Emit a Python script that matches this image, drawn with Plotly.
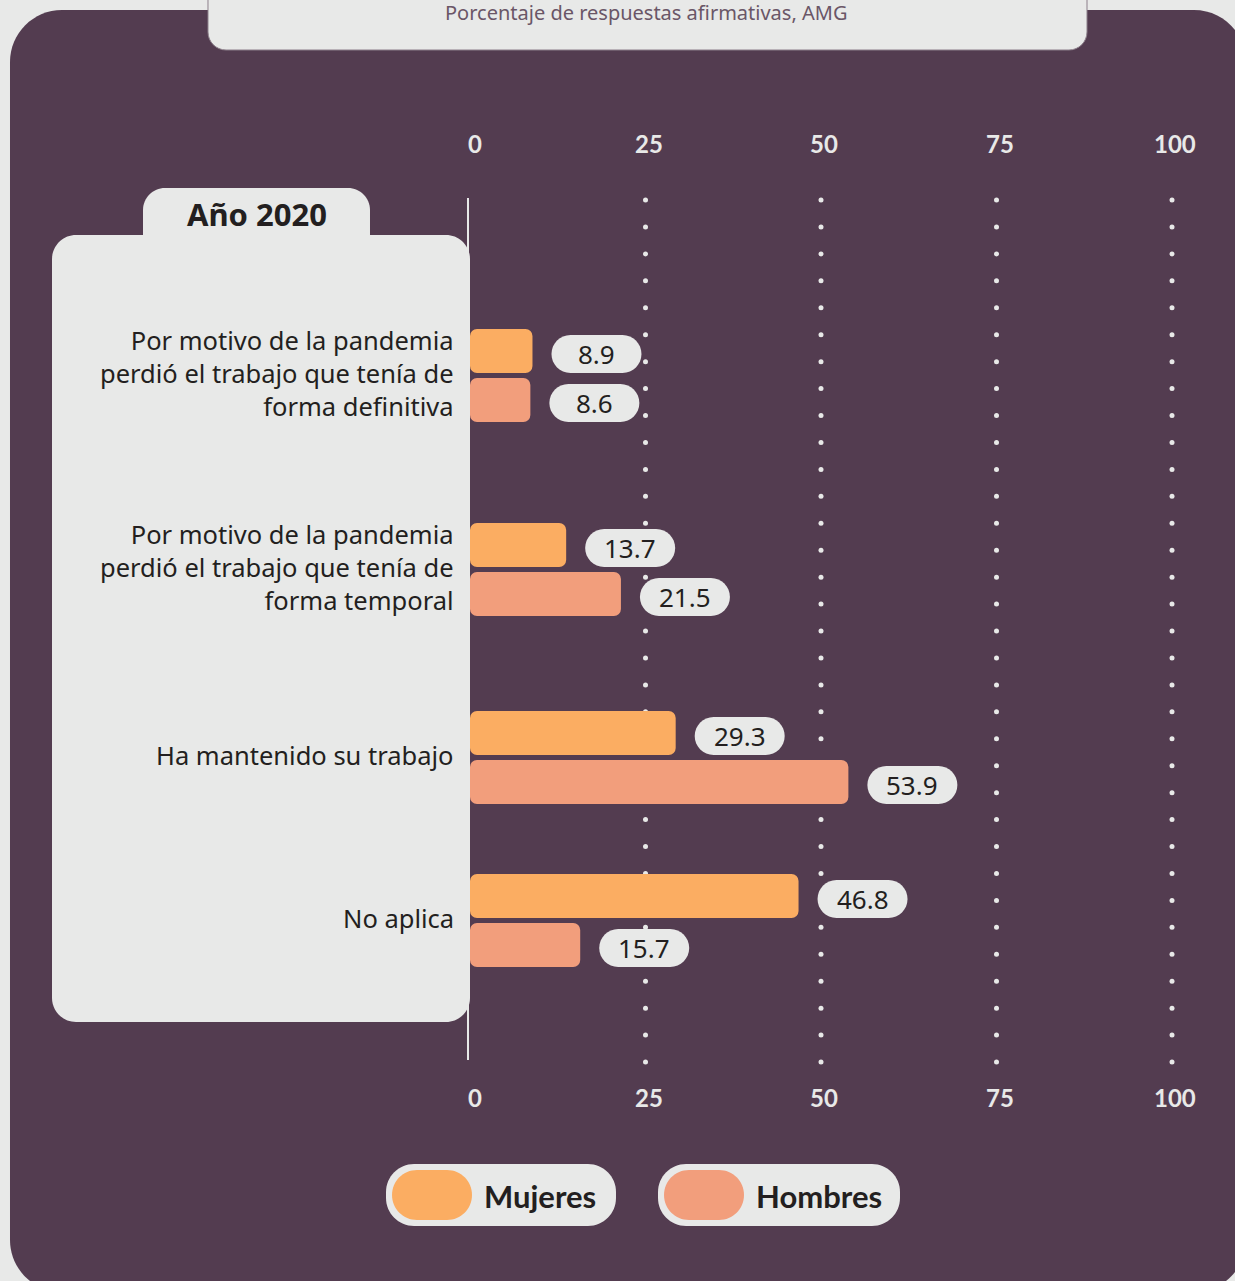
import numpy as np
import plotly.graph_objects as go

# ---- data -------------------------------------------------------------
categories = [
    "Por motivo de la pandemia<br>perdió el trabajo que tenía de<br>forma definitiva",
    "Por motivo de la pandemia<br>perdió el trabajo que tenía de<br>forma temporal",
    "Ha mantenido su trabajo",
    "No aplica",
]
mujeres = [8.9, 13.7, 29.3, 46.8]
hombres = [8.6, 21.5, 53.9, 15.7]
tick_values = [0, 25, 50, 75, 100]
series_names = ["Mujeres", "Hombres"]
subtitle = "Porcentaje de respuestas afirmativas, AMG"
panel_title = "Año 2020"

# ---- layout constants (pixels) ---------------------------------------
W, H = 1235, 1281
X0_PX = 470          # pixel position of value 0
PX_PER_UNIT = 7.02   # horizontal scale
row_centres = [375.5, 569.5, 757.5, 920.5]
BAR_H = 44
PAIR_OFFSET = 24.5

PURPLE = "#533c50"
LIGHT = "#e8e9e8"
DARK = "#231f20"
C_MUJ = "#fbad62"
C_HOM = "#f29e7c"
FONT = "Noto Sans"
NUM_FONT = "Lato"

x_range = [-X0_PX / PX_PER_UNIT, (W - X0_PX) / PX_PER_UNIT]


def px(x):
    return x / W


def py(y):
    return 1 - y / H


def rounded_path(x0, y0, x1, y1, r, corners=(1, 1, 1, 1), to_paper=True):
    """Rounded rectangle path; corners = (top-left, top-right, bottom-right, bottom-left)."""
    k = 0.5523
    tl, tr, br, bl = [r if c else 0 for c in corners]
    if to_paper:
        fx, fy = px, py
    else:
        fx, fy = (lambda v: v), (lambda v: v)
    P = lambda x, y: f"{fx(x):.6f},{fy(y):.6f}"
    d = f"M {P(x0 + tl, y0)} L {P(x1 - tr, y0)} "
    if tr:
        d += f"C {P(x1 - tr + k * tr, y0)} {P(x1, y0 + tr - k * tr)} {P(x1, y0 + tr)} "
    d += f"L {P(x1, y1 - br)} "
    if br:
        d += f"C {P(x1, y1 - br + k * br)} {P(x1 - br + k * br, y1)} {P(x1 - br, y1)} "
    d += f"L {P(x0 + bl, y1)} "
    if bl:
        d += f"C {P(x0 + bl - k * bl, y1)} {P(x0, y1 - bl + k * bl)} {P(x0, y1 - bl)} "
    d += f"L {P(x0, y0 + tl)} "
    if tl:
        d += f"C {P(x0, y0 + tl - k * tl)} {P(x0 + tl - k * tl, y0)} {P(x0 + tl, y0)} "
    return d + "Z"


fig = go.Figure()

# dotted vertical guides (main subplot, drawn underneath the bars)
dot_y = np.linspace(200, 1062, 33)
for t in tick_values[1:]:
    fig.add_trace(go.Scatter(
        x=[t] * len(dot_y), y=dot_y, mode="markers",
        marker=dict(size=5, color=LIGHT), hoverinfo="skip", showlegend=False,
    ))

# bars on an overlaid subplot so they sit above the dots
fig.add_trace(go.Bar(
    x=mujeres, y=[c - PAIR_OFFSET for c in row_centres], orientation="h",
    width=BAR_H, base=0, marker=dict(color=C_MUJ, cornerradius=7, line_width=0),
    name=series_names[0], showlegend=False, hoverinfo="x",
    xaxis="x2", yaxis="y2",
))
fig.add_trace(go.Bar(
    x=hombres, y=[c + PAIR_OFFSET for c in row_centres], orientation="h",
    width=BAR_H, base=0, marker=dict(color=C_HOM, cornerradius=7, line_width=0),
    name=series_names[1], showlegend=False, hoverinfo="x",
    xaxis="x2", yaxis="y2",
))

shapes = []
annotations = []

# background card
shapes.append(dict(type="path", xref="paper", yref="paper", layer="below",
                   path=rounded_path(10, 10, 1246, 1292, 52),
                   fillcolor=PURPLE, line_width=0))
# subtitle tab at the top
shapes.append(dict(type="path", xref="paper", yref="paper", layer="below",
                   path=rounded_path(208, -30, 1087, 50, 18),
                   fillcolor=LIGHT, line=dict(color="#8c7f8a", width=1)))
# category panel and its tab
shapes.append(dict(type="path", xref="paper", yref="paper", layer="below",
                   path=rounded_path(143, 188, 370, 250, 22, corners=(1, 1, 0, 0)),
                   fillcolor=LIGHT, line_width=0))
shapes.append(dict(type="path", xref="paper", yref="paper", layer="below",
                   path=rounded_path(52, 235, 470, 1022, 24),
                   fillcolor=LIGHT, line_width=0))
# zero line
shapes.append(dict(type="line", xref="paper", yref="paper", layer="above",
                   x0=px(468), x1=px(468), y0=py(198), y1=py(1060),
                   line=dict(color=LIGHT, width=2)))

annotations.append(dict(xref="paper", yref="paper", x=px(646), y=py(12),
                        text=subtitle, showarrow=False, xanchor="center", yanchor="middle",
                        font=dict(family=FONT, size=20, color="#6a5667")))
annotations.append(dict(xref="paper", yref="paper", x=px(257), y=py(214),
                        text=panel_title, showarrow=False, xanchor="center", yanchor="middle",
                        font=dict(family=FONT, size=31, color=DARK, weight=700)))

# category labels
for cat, yc in zip(categories, row_centres):
    annotations.append(dict(xref="paper", yref="y", x=px(456), y=yc - 3,
                            text=cat, showarrow=False, xanchor="right", yanchor="middle",
                            align="right",
                            font=dict(family=FONT, size=25.5, color=DARK)))

# axis tick labels, top and bottom
for t in tick_values:
    for yl in (143, 1097):
        annotations.append(dict(xref="x", yref="y", x=t, y=yl, xshift=5 if t == 0 else 3,
                                text=str(t), showarrow=False,
                                xanchor="center", yanchor="middle",
                                font=dict(family=NUM_FONT, size=24, color=LIGHT, weight=700)))

# value pills
for vals, sign in ((mujeres, -1), (hombres, 1)):
    for v, yc in zip(vals, row_centres):
        yv = yc + sign * PAIR_OFFSET + 3
        shapes.append(dict(type="path", xref="x", yref="y", layer="above",
                           xsizemode="pixel", ysizemode="pixel",
                           xanchor=v, yanchor=yv,
                           path=rounded_path(19, -19, 109, 19, 19, to_paper=False),
                           fillcolor=LIGHT, line_width=0))
        annotations.append(dict(xref="x", yref="y", x=v, y=yv, xshift=64,
                                text=f"{v:.1f}", showarrow=False,
                                xanchor="center", yanchor="middle",
                                font=dict(family=FONT, size=26, color=DARK)))

# legend pills
legend_items = [
    (series_names[0], C_MUJ, 386, 616),
    (series_names[1], C_HOM, 658, 900),
]
for name, col, lx0, lx1 in legend_items:
    shapes.append(dict(type="path", xref="paper", yref="paper", layer="above",
                       path=rounded_path(lx0, 1164, lx1, 1226, 28),
                       fillcolor=LIGHT, line_width=0))
    shapes.append(dict(type="path", xref="paper", yref="paper", layer="above",
                       path=rounded_path(lx0 + 6, 1170, lx0 + 86, 1220, 25),
                       fillcolor=col, line_width=0))
    annotations.append(dict(xref="paper", yref="paper", x=px(lx0 + 96), y=py(1196),
                            text=name, showarrow=False, xanchor="left", yanchor="middle",
                            font=dict(family=NUM_FONT, size=31, color=DARK, weight=700)))

fig.update_layout(
    width=W, height=H,
    margin=dict(l=0, r=0, t=0, b=0),
    paper_bgcolor=LIGHT, plot_bgcolor="rgba(0,0,0,0)",
    barmode="overlay",
    xaxis=dict(range=x_range, visible=False, fixedrange=True),
    yaxis=dict(range=[H, 0], visible=False, fixedrange=True),
    xaxis2=dict(range=x_range, visible=False, fixedrange=True, overlaying="x"),
    yaxis2=dict(range=[H, 0], visible=False, fixedrange=True, overlaying="y"),
    shapes=shapes, annotations=annotations,
    showlegend=False,
)

fig.write_html("out.html")
